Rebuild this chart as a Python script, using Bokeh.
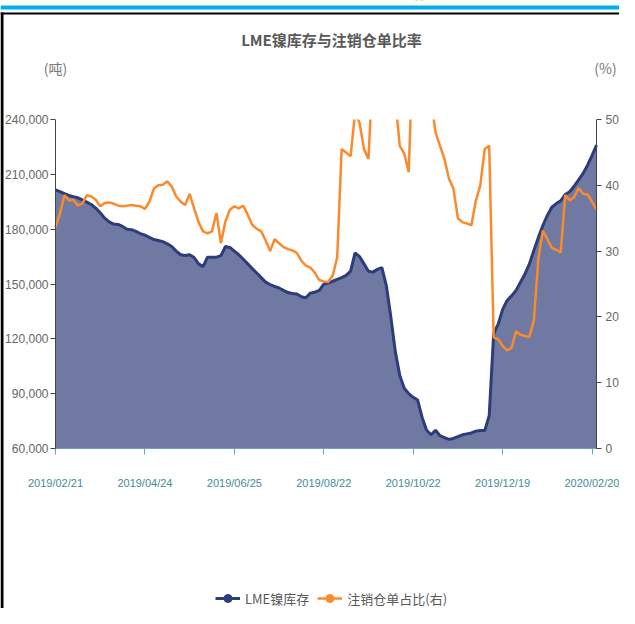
from bokeh.plotting import figure
from bokeh.models import (Range1d, LinearAxis, FixedTicker, NumeralTickFormatter,
                          Legend, LegendItem, Label, BoxAnnotation, ColumnDataSource)
from bokeh.embed import file_html
from bokeh.resources import INLINE

title_text = "LME镍库存与注销仓单比率"
left_unit = "(吨)"
right_unit = "(%)"
series_names = ["LME镍库存", "注销仓单占比(右)"]
date_labels = ["2019/02/21", "2019/04/24", "2019/06/25", "2019/08/22",
               "2019/10/22", "2019/12/19", "2020/02/20"]
date_tick_idx = [0, 20, 40, 60, 80, 100, 120]
left_ticks = [60000, 90000, 120000, 150000, 180000, 210000, 240000]
right_ticks = [0, 10, 20, 30, 40, 50]

stock = [
    201500, 200500, 199500, 198500, 197800, 197200, 196000, 194800, 193500, 191500,
    189000, 186000, 184000, 182800, 182600, 181500, 180000, 179700, 178800, 177500,
    176700, 175500, 174300, 173800, 173200, 172000, 170500, 168000, 166000, 165600,
    166000, 164500, 161000, 159500, 164700, 164700, 164700, 165500, 170500, 170000,
    168000, 166000, 163500, 161000, 158500, 156000, 153500, 151000, 149700, 148700,
    147800, 146500, 145300, 144800, 144500, 143000, 142500, 145000, 145500, 146500,
    150000, 150500, 151500, 152500, 153500, 154700, 157000, 167000, 165000, 161000,
    157000, 156500, 158000, 159000, 149000, 132000, 113000, 100000, 93000, 90000,
    88000, 86500, 77000, 70000, 67500, 70000, 67000, 66000, 65000, 65500,
    66500, 67500, 68000, 68500, 69500, 69800, 69800, 78000, 122700, 128000,
    136000, 141000, 143500, 146500, 151000, 155500, 161000, 168500, 175500, 182000,
    187500, 192000, 194000, 195500, 199000, 200500, 203500, 207000, 210500, 215000,
    220300, 226000,
]

ratio = [
    33.6, 35.7, 38.5, 37.7, 37.8, 36.9, 37.2, 38.5, 38.3, 37.8,
    36.8, 37.3, 37.4, 37.2, 36.9, 36.8, 36.9, 37.0, 36.9, 36.8,
    36.4, 37.5, 39.5, 40.0, 40.1, 40.6, 39.8, 38.3, 37.5, 37.0,
    38.7, 36.5, 34.4, 33.0, 32.7, 33.0, 35.8, 31.2, 34.5, 36.3,
    36.8, 36.5, 36.9, 35.5, 34.0, 33.4, 33.0, 31.6, 30.0, 31.8,
    31.2, 30.6, 30.3, 30.1, 29.7, 28.5, 27.8, 27.5, 26.7, 25.6,
    25.4, 25.3, 26.3, 29.0, 45.5, 45.0, 44.4, 51.0, 49.5, 45.5,
    44.0, 58.0, 62.0, 65.0, 63.0, 60.0, 53.0, 46.0, 44.8, 42.0,
    62.0, 70.0, 68.0, 62.0, 53.0, 48.0, 46.0, 44.0, 41.0, 39.5,
    35.0, 34.4, 34.2, 33.9, 37.6, 40.0, 45.5, 46.0, 16.9, 16.6,
    15.6, 14.9, 15.3, 17.8, 17.3, 17.1, 17.0, 19.5, 28.8, 33.1,
    31.8, 30.5, 30.2, 29.8, 38.5, 37.7, 38.2, 39.6, 38.7, 38.6,
    37.5, 36.3,
]

x = list(range(len(stock)))
src = ColumnDataSource(dict(x=x, stock=stock, ratio=ratio))

# canvas and plot-area placement (pixels inside the canvas)
W, H = 619, 608
FL, FR, FT, FB = 55, 596, 119, 448
X0, X1 = 0, len(stock) - 1
Y0, Y1 = left_ticks[0], left_ticks[-1]
R0, R1 = right_ticks[0], right_ticks[-1]
px_x = (FR - FL) / (X1 - X0)
px_y = (FB - FT) / (Y1 - Y0)
px_r = (FB - FT) / (R1 - R0)


def dx(sx):
    return X0 + (sx - FL) / px_x


def dy(sy):
    return Y0 + (FB - sy) / px_y


def dr(sy):
    return R0 + (FB - sy) / px_r


TICK_FONT = "Liberation Sans"
CJK = "Noto Sans CJK SC"
BLUE_LINE = "#2d3c7b"
BLUE_FILL = "#6f79a1"
ORANGE = "#fb8a2c"

p = figure(width=W, height=H, x_range=Range1d(dx(0), dx(W)), y_range=Range1d(dy(H), dy(0)),
           output_backend="svg", toolbar_location=None, min_border=0)
p.outline_line_color = None
p.grid.visible = False
p.background_fill_color = "white"
p.border_fill_color = "white"

p.extra_y_ranges = {"pct": Range1d(dr(H), dr(0))}

# x axis
xa = p.xaxis[0]
xa.fixed_location = Y0
xa.bounds = (X0, X1)
xa.ticker = FixedTicker(ticks=date_tick_idx)
xa.major_label_overrides = {t: l for t, l in zip(date_tick_idx, date_labels)}
xa.axis_line_color = "#6aa3b5"
xa.major_tick_line_color = "#6aa3b5"
xa.major_tick_out = 6
xa.major_tick_in = 0
xa.minor_tick_line_color = None
xa.major_label_text_color = "#3f8c9b"
xa.major_label_text_font = TICK_FONT
xa.major_label_text_font_size = "11px"
xa.major_label_standoff = 22

# left axis
ya = p.yaxis[0]
ya.fixed_location = X0
ya.bounds = (Y0, Y1)
ya.ticker = FixedTicker(ticks=left_ticks)
ya.formatter = NumeralTickFormatter(format="0,0")
ya.axis_line_color = "#444444"
ya.major_tick_line_color = "#444444"
ya.major_tick_out = 5
ya.major_tick_in = 0
ya.minor_tick_line_color = None
ya.major_label_text_color = "#666666"
ya.major_label_text_font = TICK_FONT
ya.major_label_text_font_size = "12px"
ya.major_label_standoff = 2

# right axis
ra = LinearAxis(y_range_name="pct", ticker=FixedTicker(ticks=right_ticks),
                fixed_location=X1, bounds=(R0, R1))
ra.axis_line_color = "#444444"
ra.major_tick_line_color = "#444444"
ra.major_tick_out = 5
ra.major_tick_in = 0
ra.minor_tick_line_color = None
ra.major_label_text_color = "#666666"
ra.major_label_text_font = TICK_FONT
ra.major_label_text_font_size = "12px"
ra.major_label_standoff = 4
p.add_layout(ra, "right")

# series
p.varea(x="x", y1=Y0, y2="stock", source=src, fill_color=BLUE_FILL, fill_alpha=1.0)
blue_line = p.line("x", "stock", source=src, line_color=BLUE_LINE, line_width=3)
orange_line = p.line("x", "ratio", source=src, y_range_name="pct",
                     line_color=ORANGE, line_width=2.5)
# hidden marker renderers: they only give the legend its round symbols
blue_dot = p.scatter("x", "stock", source=src, marker="circle", size=9,
                     fill_color=BLUE_LINE, line_color=BLUE_LINE, visible=False)
orange_dot = p.scatter("x", "ratio", source=src, y_range_name="pct", marker="circle", size=9,
                       fill_color=ORANGE, line_color=ORANGE, visible=False)

# hide the part of the ratio line above the plot area (values > 50 %)
p.add_layout(BoxAnnotation(left=X0, right=X1, bottom=Y1, top=None,
                           fill_color="white", fill_alpha=1, line_alpha=0))

legend = Legend(items=[LegendItem(label=series_names[0], renderers=[blue_line, blue_dot]),
                       LegendItem(label=series_names[1], renderers=[orange_line, orange_dot])],
                location=(215, 0), orientation="horizontal",
                glyph_width=25, glyph_height=20, label_height=14, label_standoff=5,
                spacing=8, padding=0, margin=0, border_line_color=None,
                background_fill_alpha=0, label_text_font=CJK, inactive_fill_alpha=0,
                label_text_font_size="13px", label_text_color="#595959")
p.add_layout(legend)

# texts
p.add_layout(Label(x=dx(331), y=dy(39), text=title_text, text_align="center",
                   text_baseline="middle", text_font=CJK, text_font_size="15px",
                   text_font_style="bold", text_color="#595959"))
p.add_layout(Label(x=dx(55), y=dy(67), text=left_unit, text_align="center",
                   text_baseline="middle", text_font=CJK, text_font_size="14px",
                   text_color="#777777"))
p.add_layout(Label(x=dx(605), y=dy(67), text=right_unit, text_align="center",
                   text_baseline="middle", text_font=CJK, text_font_size="14px",
                   text_color="#777777"))

# decorative frame bars
p.add_layout(BoxAnnotation(left=None, right=None, top=dy(5), bottom=dy(9),
                           fill_color="#00aeef", fill_alpha=1, line_alpha=0))
p.add_layout(BoxAnnotation(left=None, right=None, top=dy(12), bottom=dy(14),
                           fill_color="#000000", fill_alpha=1, line_alpha=0))
p.add_layout(BoxAnnotation(left=None, right=dx(3), top=dy(12), bottom=None,
                           fill_color="#000000", fill_alpha=1, line_alpha=0))

open("out.html", "w").write(file_html(p, INLINE))
